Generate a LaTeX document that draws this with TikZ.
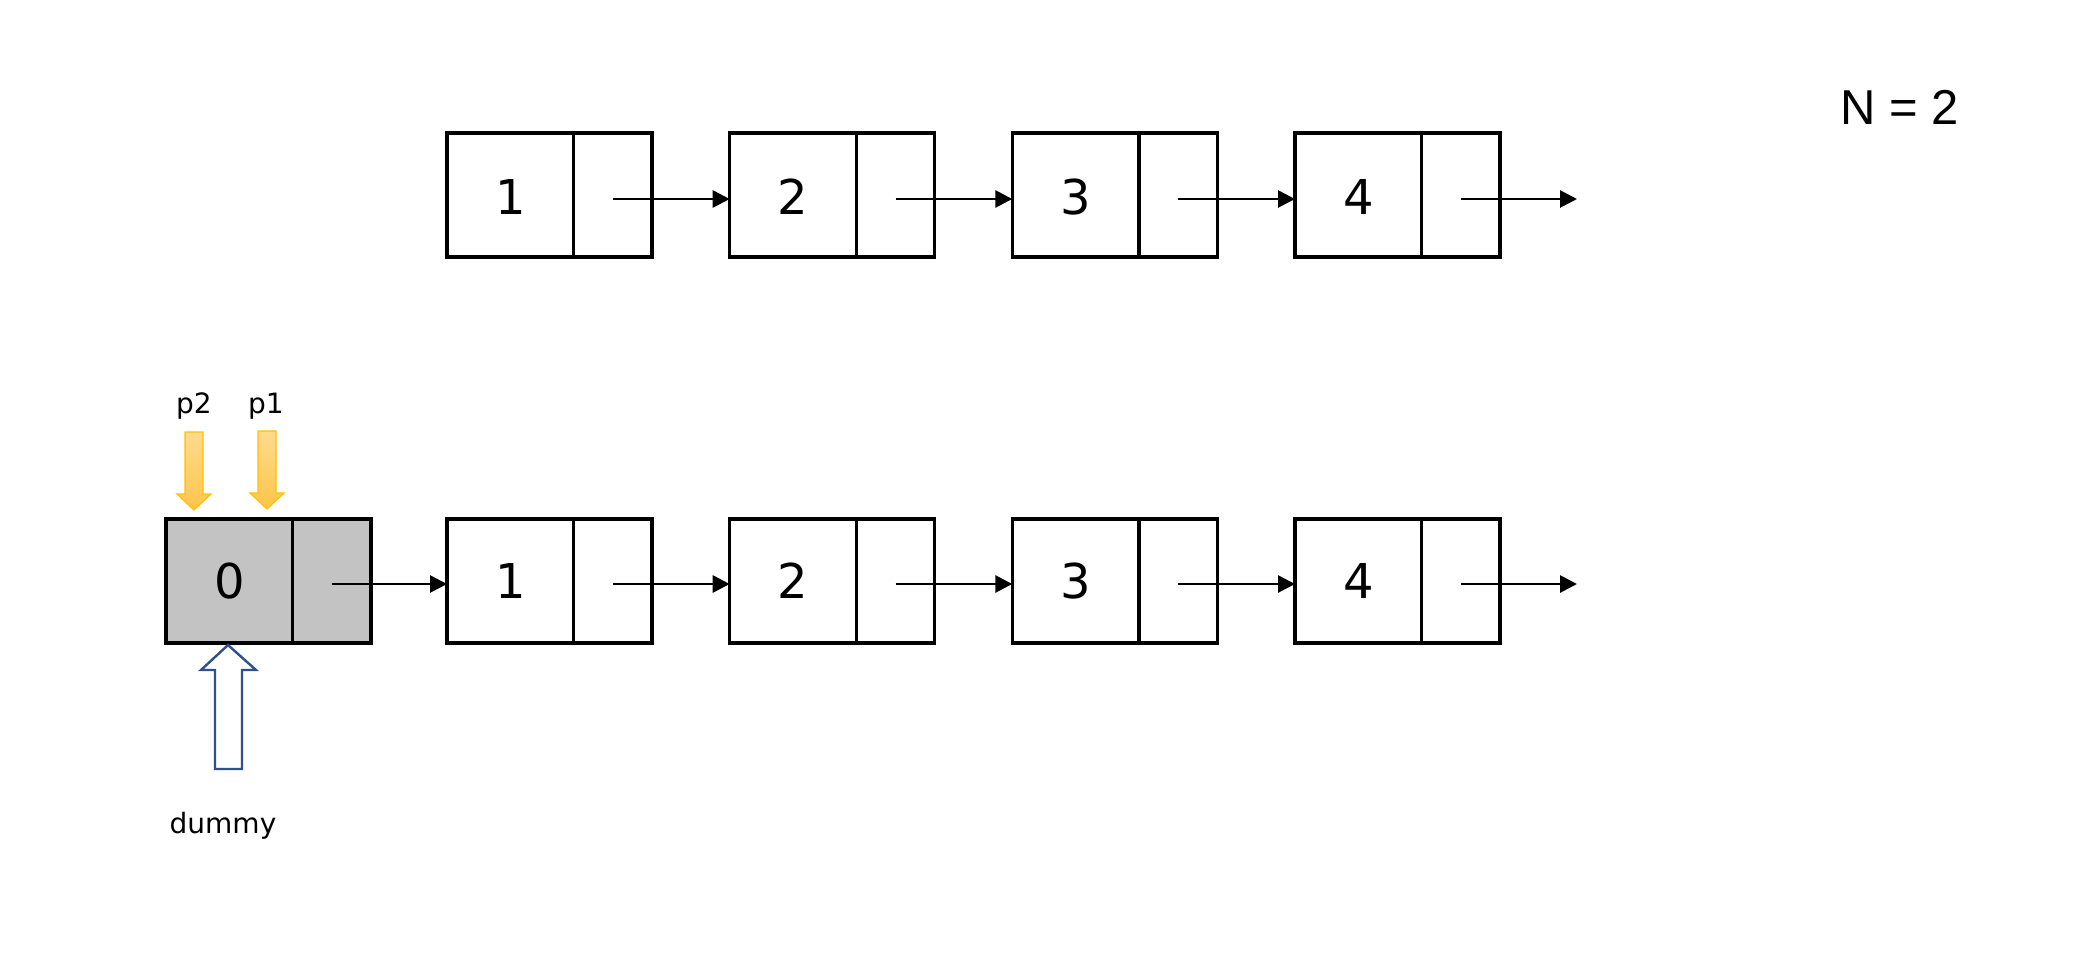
\documentclass[tikz,border=0pt]{standalone}
\usepackage{fontspec}
\setmainfont{DejaVu Sans}
\newfontfamily\arialfont{Liberation Sans}
\usetikzlibrary{arrows.meta}
\definecolor{boxgray}{HTML}{C4C3C4}
\definecolor{ptrtop}{HTML}{FFDA8E}
\definecolor{ptrbot}{HTML}{FFC549}
\definecolor{ptredge}{HTML}{FFC000}
\definecolor{dumblue}{HTML}{2F4F8F}
\tikzset{
  valcell/.style={draw, line width=1.6pt, inner sep=0pt, outer sep=0pt,
    minimum width=63.35pt, minimum height=62pt, anchor=north west,
    font=\fontsize{24}{28}\selectfont},
  ptrcell/.style={draw, line width=1.6pt, inner sep=0pt, outer sep=0pt,
    minimum width=39.15pt, minimum height=62pt, anchor=north west},
  link/.style={line width=1.4pt, -{Triangle[length=8.5pt,width=8.5pt]}},
  lbl/.style={font=\fontsize{14}{17}\selectfont, anchor=base, inner sep=0pt},
  yarrow/.style={draw=ptredge, line width=0.6pt, top color=ptrtop, bottom color=ptrbot},
  barrow/.style={draw=dumblue, line width=1.2pt, fill=white}
}
\begin{document}
\begin{tikzpicture}[x=0.5pt,y=-0.5pt]
\useasboundingbox (0,0) rectangle (2090,960);
% top row
\foreach \i/\x in {1/447,2/729.7,3/1012.3,4/1295}{
  \node[valcell] (tv\i) at (\x,133) {\raisebox{-1pt}[\height][\depth]{\i}};
  \node[ptrcell] (tp\i) at (\x+126.7,133) {};
}
% bottom row
\node[valcell, fill=boxgray] (bv0) at (166,519) {0};
\node[ptrcell, fill=boxgray] (bp0) at (292.7,519) {};
\foreach \i/\x in {1/447,2/729.7,3/1012.3,4/1295}{
  \node[valcell] (bv\i) at (\x,519) {\i};
  \node[ptrcell] (bp\i) at (\x+126.7,519) {};
}
% links
\foreach \a/\b in {1/2,2/3,3/4}{
  \draw[link] ([yshift=-2pt]tp\a.center) -- ([yshift=-2pt]tp\a.center -| tv\b.west);
  \draw[link] ([yshift=-1.5pt]bp\a.center) -- ([yshift=-1.5pt]bp\a.center -| bv\b.west);
}
\draw[link] ([yshift=-1.5pt]bp0.center) -- ([yshift=-1.5pt]bp0.center -| bv1.west);
\coordinate (tend) at (1577,199);
\coordinate (bend) at (1577,584);
\draw[link] ([yshift=-2pt]tp4.center) -- (tend);
\draw[link] ([yshift=-1.5pt]bp4.center) -- (bend);
% N = 2
\node[font=\arialfont\fontsize{24.5}{28}\selectfont, anchor=base, inner sep=0pt] (nlabel) at (1900,124) {N = 2};
% pointer labels
\node[lbl] (p2lbl) at (194,413) {p2};
\node[lbl] (p1lbl) at (266,413) {p1};
\node[lbl] (dumlbl) at (223,833) {dummy};
% yellow arrows
\path[yarrow] (185,432) -- (203,432) -- (203,494) -- (211,494) -- (194,510) -- (177,494) -- (185,494) -- cycle;
\path[yarrow] (258,431) -- (276,431) -- (276,493) -- (284,493) -- (267,509) -- (250,493) -- (258,493) -- cycle;
% dummy hollow arrow
\path[barrow] (228,645) -- (256,670) -- (242,670) -- (242,769) -- (215,769) -- (215,670) -- (201,670) -- cycle;
\end{tikzpicture}
\end{document}
